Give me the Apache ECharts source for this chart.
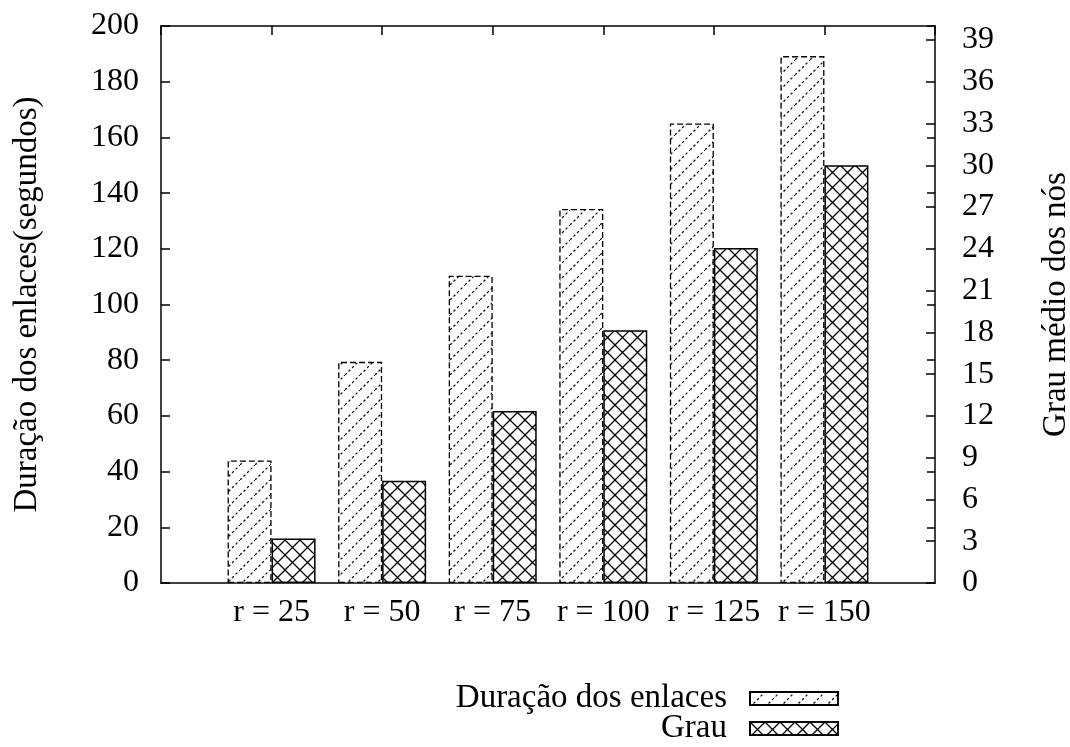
<!DOCTYPE html>
<html>
<head>
<meta charset="utf-8">
<script src="https://cdn.jsdelivr.net/npm/echarts@6/dist/echarts.min.js"></script>
<style>
  html, body { margin: 0; padding: 0; background: #fff; }
  #chart { width: 1070px; height: 747px; }
</style>
</head>
<body>
<div id="chart"></div>
<script>
// dados
const categories = ['r = 25', 'r = 50', 'r = 75', 'r = 100', 'r = 125', 'r = 150']
const duracao = [44, 79.4, 110.3, 134.3, 165, 189.2]      // eixo esquerdo (segundos)
const grau = [3.2, 7.35, 12.35, 18.15, 24.05, 30]          // eixo direito
const leftTicks = { min: 0, max: 200, interval: 20 }
const rightTicks = { min: 0, max: 40, interval: 3 }

const FONT = "'Liberation Serif', 'DejaVu Serif', serif"

// padrão de listras tracejadas "/"
function hatchPattern() {
  const s = 15
  const c = document.createElement('canvas')
  c.width = s; c.height = s
  const ctx = c.getContext('2d')
  ctx.fillStyle = '#fff'
  ctx.fillRect(0, 0, s, s)
  ctx.strokeStyle = '#111'
  ctx.lineWidth = 1.3
  ctx.setLineDash([2.5, 2.5])
  ctx.beginPath()
  ctx.moveTo(0, s); ctx.lineTo(s, 0)
  ctx.stroke()
  return c
}

// padrão xadrez "X"
function crossPattern() {
  const s = 15
  const c = document.createElement('canvas')
  c.width = s; c.height = s
  const ctx = c.getContext('2d')
  ctx.fillStyle = '#fff'
  ctx.fillRect(0, 0, s, s)
  ctx.strokeStyle = '#000'
  ctx.lineWidth = 1.3
  ctx.beginPath()
  ctx.moveTo(0, 0); ctx.lineTo(s, s)
  ctx.moveTo(0, s); ctx.lineTo(s, 0)
  ctx.stroke()
  return c
}

// categorias com espaço vazio nas pontas (como no gnuplot, x de -1 a 6)
const axisCats = [''].concat(categories, [''])
const pad = arr => [null].concat(arr, [null])

const lineStyle = { color: '#000', width: 1.5 }

function legendAt(name, top) {
  return {
    orient: 'horizontal',
    right: 231,
    top: top,
    padding: 0,
    align: 'right',
    icon: 'rect',
    itemWidth: 88,
    itemHeight: 13,
    selectedMode: false,
    textStyle: { fontFamily: FONT, fontSize: 33, color: '#000', lineHeight: 25, padding: [0, 18, 0, 0] },
    data: [name]
  }
}

const option = {
  animation: false,
  backgroundColor: '#fff',
  grid: { left: 161, right: 135, top: 26, bottom: 164, containLabel: false, outerBoundsMode: 'none' },
  legend: [
    legendAt('Duração dos enlaces', 682),
    legendAt('Grau', 712)
  ],
  xAxis: [
    {
      type: 'category',
      data: axisCats,
      boundaryGap: false,
      axisLine: { lineStyle, onZero: false },
      axisTick: { show: false },
      axisLabel: { interval: 0, fontFamily: FONT, fontSize: 32, color: '#000', margin: 14 },
      splitLine: { show: false }
    },
    {
      type: 'category',
      position: 'top',
      data: axisCats,
      boundaryGap: false,
      axisLine: { lineStyle, onZero: false },
      axisTick: { show: true, inside: true, length: 9, lineStyle, interval: 0 },
      axisLabel: { show: false },
      splitLine: { show: false }
    }
  ],
  yAxis: [
    {
      type: 'value',
      position: 'left',
      offset: 0,
      min: leftTicks.min, max: leftTicks.max, interval: leftTicks.interval,
      name: 'Duração dos enlaces(segundos)',
      nameLocation: 'middle',
      nameGap: 117,
      nameRotate: 90,
      nameTextStyle: { fontFamily: FONT, fontSize: 33, color: '#000' },
      axisLine: { show: true, lineStyle },
      axisTick: { show: true, inside: true, length: 9, lineStyle },
      axisLabel: { fontFamily: FONT, fontSize: 32, color: '#000', margin: 22 },
      splitLine: { show: false }
    },
    {
      type: 'value',
      position: 'right',
      offset: 0,
      min: rightTicks.min, max: rightTicks.max, interval: rightTicks.interval,
      name: 'Grau médio dos nós',
      nameLocation: 'middle',
      nameGap: 105,
      nameRotate: 90,
      nameTextStyle: { fontFamily: FONT, fontSize: 33, color: '#000' },
      axisLine: { show: true, lineStyle },
      axisTick: { show: true, inside: true, length: 9, lineStyle },
      axisLabel: {
        fontFamily: FONT, fontSize: 32, color: '#000', margin: 27,
        showMaxLabel: false,
        formatter: v => (v % 3 === 0 ? String(v) : '')
      },
      splitLine: { show: false }
    },
    {
      // marcas espelhadas do eixo esquerdo no lado direito
      type: 'value',
      position: 'right',
      offset: 0,
      min: leftTicks.min, max: leftTicks.max, interval: leftTicks.interval,
      axisLine: { show: false },
      axisTick: { show: true, inside: true, length: 8, lineStyle },
      axisLabel: { show: false },
      splitLine: { show: false }
    }
  ],
  series: [
    {
      name: 'Duração dos enlaces',
      type: 'bar',
      xAxisIndex: 0,
      yAxisIndex: 0,
      data: pad(duracao),
      barWidth: 44,
      barGap: '0%',
      itemStyle: {
        color: { image: hatchPattern(), repeat: 'repeat' },
        borderColor: '#000',
        borderWidth: 1.3,
        borderType: [6, 3]
      }
    },
    {
      name: 'Grau',
      type: 'bar',
      xAxisIndex: 0,
      yAxisIndex: 1,
      data: pad(grau),
      barWidth: 44,
      barGap: '0%',
      itemStyle: {
        color: { image: crossPattern(), repeat: 'repeat' },
        borderColor: '#000',
        borderWidth: 1.5
      }
    }
  ]
}

const myChart = echarts.init(document.getElementById('chart'))
myChart.setOption(option)
</script>
</body>
</html>
